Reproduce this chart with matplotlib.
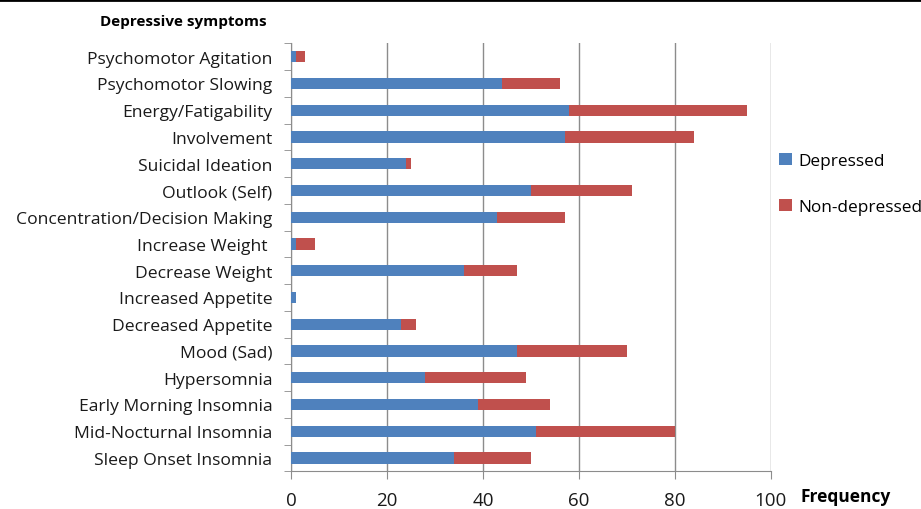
import matplotlib.pyplot as plt
import numpy as np

plt.rcParams['font.family'] = ['Open Sans', 'DejaVu Sans']

# Data (top to bottom as in the reference)
symptoms = [
    "Psychomotor Agitation", "Psychomotor Slowing", "Energy/Fatigability",
    "Involvement", "Suicidal Ideation", "Outlook (Self)",
    "Concentration/Decision Making", "Increase Weight ", "Decrease Weight",
    "Increased Appetite", "Decreased Appetite", "Mood (Sad)", "Hypersomnia",
    "Early Morning Insomnia", "Mid-Nocturnal Insomnia", "Sleep Onset Insomnia",
]
depressed = [1, 44, 58, 57, 24, 50, 43, 1, 36, 1, 23, 47, 28, 39, 51, 34]
non_depressed = [2, 12, 37, 27, 1, 21, 14, 4, 11, 0, 3, 23, 21, 15, 29, 16]

BLUE = "#4F81BD"
RED = "#C0504D"
GRID = "#8c8c8c"

fig = plt.figure(figsize=(9.21, 5.10), dpi=100)
ax = fig.add_axes([0.316, 0.074, 0.521, 0.839])

y = np.arange(len(symptoms))
ax.barh(y, depressed, height=0.42, color=BLUE, label="Depressed", zorder=3)
ax.barh(y, non_depressed, left=depressed, height=0.42, color=RED,
        label="Non-depressed", zorder=3)

ax.set_ylim(len(symptoms) - 0.5, -0.5)
ax.set_xlim(0, 100)
ax.set_xticks([0, 20, 40, 60, 80, 100])
ax.set_yticks(y)
ax.set_yticklabels(symptoms, fontsize=12.6, color="#1a1a1a")
ax.set_yticks(np.arange(-0.5, len(symptoms)), minor=True)
ax.tick_params(axis="y", which="major", length=0, pad=13.5)
ax.tick_params(axis="y", which="minor", length=5, color=GRID)
ax.tick_params(axis="x", length=6, color=GRID, labelsize=13.5, pad=8,
               labelcolor="#1a1a1a")

ax.grid(axis="x", color=GRID, linewidth=1.0, zorder=0)
for s in ["top", "right"]:
    ax.spines[s].set_visible(False)
for s in ["left", "bottom"]:
    ax.spines[s].set_color(GRID)

fig.text(0.109, 0.957, "Depressive symptoms", fontsize=11, fontweight="bold",
         ha="left", va="center")
fig.text(0.869, 0.025, "Frequency", fontsize=12.5, fontweight="bold",
         ha="left", va="center")

ax.legend(loc="upper left", bbox_to_anchor=(1.0, 0.765), frameon=False,
          fontsize=12.4, handlelength=0.7, handleheight=0.7, handletextpad=0.4,
          labelspacing=1.75, borderaxespad=0.1)

fig.add_artist(plt.Line2D([0, 1], [0.998, 0.998], color="black", linewidth=2))

fig.savefig("out.png", dpi=100)
